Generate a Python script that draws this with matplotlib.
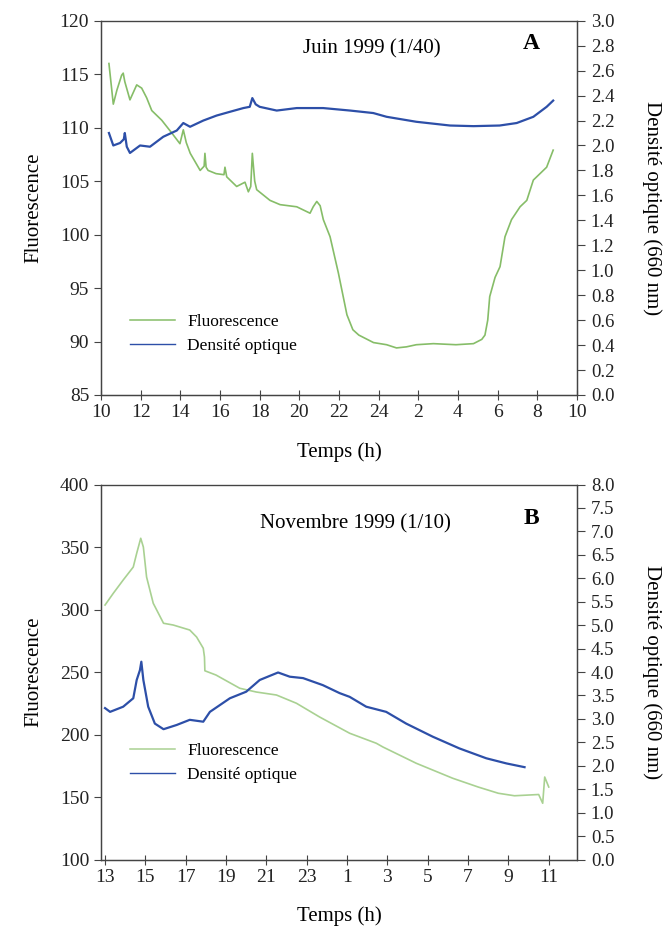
import matplotlib
matplotlib.use("Agg")
import matplotlib.pyplot as plt
from matplotlib.lines import Line2D

plt.rcParams['font.family'] = ['Liberation Serif', 'DejaVu Serif']

# ---------------- Panel A data (time in hours, continuous from 10 h) -------------
a_fluo_t = [10.4, 10.62, 10.8, 11.04, 11.12, 11.2, 11.46, 11.8, 12.05, 12.3, 12.56,
            13.06, 13.57, 13.98, 14.15, 14.3, 14.5, 15.0, 15.2, 15.24, 15.3, 15.4,
            15.8, 16.2, 16.25, 16.34, 16.84, 17.26, 17.43, 17.55, 17.63, 17.75,
            17.85, 18.52, 19.03, 19.87, 20.54, 20.7, 20.88, 21.05, 21.21, 21.55,
            21.97, 22.4, 22.7, 23.0, 23.74, 24.4, 24.9, 25.4, 25.9, 26.76, 27.9,
            28.78, 29.2, 29.36, 29.5, 29.6, 29.87, 30.12, 30.37, 30.7, 31.13,
            31.47, 31.8, 32.47, 32.8]
a_fluo_v = [116.0, 112.2, 113.5, 114.9, 115.1, 114.3, 112.6, 114.0, 113.7, 112.8, 111.6,
            110.7, 109.5, 108.5, 109.8, 108.6, 107.6, 106.0, 106.4, 107.6, 106.3, 106.0,
            105.7, 105.6, 106.3, 105.4, 104.5, 104.9, 104.0, 104.5, 107.6, 105.0,
            104.2, 103.2, 102.8, 102.6, 102.0, 102.6, 103.1, 102.7, 101.4, 99.8,
            96.4, 92.5, 91.1, 90.6, 89.9, 89.7, 89.4, 89.5, 89.7, 89.8, 89.7,
            89.8, 90.2, 90.6, 92.0, 94.2, 96.0, 97.0, 99.8, 101.4, 102.6,
            103.2, 105.1, 106.3, 107.9]

a_od_t = [10.4, 10.62, 10.96, 11.15, 11.2, 11.3, 11.46, 11.97, 12.47, 13.14, 13.82,
          14.15, 14.49, 15.16, 15.83, 16.5, 17.18, 17.5, 17.63, 17.8, 18.0, 18.86,
          19.87, 21.2, 22.56, 23.73, 24.4, 25.9, 27.6, 28.78, 30.1, 30.96, 31.8,
          32.47, 32.8]
a_od_v = [2.10, 2.00, 2.02, 2.05, 2.10, 1.99, 1.94, 2.00, 1.99, 2.07, 2.12,
          2.18, 2.15, 2.20, 2.24, 2.27, 2.30, 2.31, 2.38, 2.33, 2.31, 2.28,
          2.30, 2.30, 2.28, 2.26, 2.23, 2.19, 2.16, 2.155, 2.16, 2.18, 2.23,
          2.31, 2.36]

a_xticks = [10, 12, 14, 16, 18, 20, 22, 24, 26, 28, 30, 32, 34]
a_xlabels = ['10', '12', '14', '16', '18', '20', '22', '24', '2', '4', '6', '8', '10']

# ---------------- Panel B data (time in hours, continuous from 13 h) -------------
b_fluo_t = [13.0, 13.41, 13.9, 14.4, 14.57, 14.77, 14.9, 15.06, 15.39, 15.9, 16.38,
            17.2, 17.54, 17.87, 17.93, 17.95, 18.5, 19.68, 20.5, 21.5, 22.49,
            23.64, 25.13, 26.45, 26.78, 28.43, 30.24, 31.5, 32.5, 33.3, 34.5,
            34.7, 34.8, 35.0]
b_fluo_v = [303.6, 313, 323.6, 334, 345, 357, 350, 326, 305, 289, 287.6,
            283.6, 278, 269, 262, 251, 247.6, 237, 234, 231.6, 225,
            214, 201, 193, 190, 177, 165, 158, 153, 151, 152,
            145, 166, 158]

b_od_t = [13.0, 13.25, 13.9, 14.4, 14.57, 14.73, 14.8, 14.9, 15.14, 15.47, 15.9,
          16.55, 17.2, 17.87, 18.2, 19.19, 20.0, 20.67, 21.58, 22.16, 22.82,
          23.8, 24.63, 25.13, 25.95, 26.94, 27.93, 29.25, 30.57, 31.9, 32.9, 33.8]
b_od_v = [3.23, 3.15, 3.26, 3.44, 3.83, 4.04, 4.22, 3.83, 3.26, 2.90, 2.78,
          2.87, 2.98, 2.94, 3.15, 3.44, 3.58, 3.83, 3.99, 3.90, 3.87,
          3.72, 3.55, 3.47, 3.26, 3.15, 2.90, 2.62, 2.37, 2.16, 2.05, 1.97]

b_xticks = [13, 15, 17, 19, 21, 23, 25, 27, 29, 31, 33, 35]
b_xlabels = ['13', '15', '17', '19', '21', '23', '1', '3', '5', '7', '9', '11']

GREEN_A = '#86bd68'
GREEN_B = '#a9d192'
BLUE = '#2d4fa8'
SPINE = '#444444'

fig = plt.figure(figsize=(6.72, 9.30), dpi=100)


def style_axes(ax, ax2):
    for a in (ax, ax2):
        for s in a.spines.values():
            s.set_color(SPINE)
            s.set_linewidth(0.9)
    ax.spines['top'].set_color('#999999')
    ax.tick_params(axis='x', direction='inout', length=7, width=0.8,
                   colors=SPINE, labelcolor='#222222', labelsize=14, pad=3)
    ax.tick_params(axis='y', direction='out', length=5, width=0.8,
                   colors=SPINE, labelcolor='#222222', labelsize=14)
    ax2.tick_params(axis='y', direction='out', length=6, width=0.8,
                    colors=SPINE, labelcolor='#222222', labelsize=13.5, pad=4)


def panel(rect, ft, fv, ot, ov, green, xlim, xticks, xlabels, ylim, yticks,
          y2lim, y2ticks, title, title_xy, letter, leg_y):
    ax = fig.add_axes(rect)
    ax2 = ax.twinx()
    ax.plot(ft, fv, color=green, lw=1.2, zorder=3)
    ax2.plot(ot, ov, color=BLUE, lw=1.6, zorder=3)
    ax.set_xlim(*xlim)
    ax.set_ylim(*ylim)
    ax2.set_ylim(*y2lim)
    ax.set_xticks(xticks)
    ax.set_xticklabels(xlabels)
    ax.set_yticks(yticks)
    ax2.set_yticks(y2ticks)
    ax2.set_yticklabels(['%.1f' % v for v in y2ticks])
    style_axes(ax, ax2)
    ax.set_ylabel('Fluorescence', fontsize=15, labelpad=12)
    ax2.set_ylabel('Densité optique (660 nm)', fontsize=15, rotation=-90,
                   labelpad=34)
    ax.set_xlabel('Temps (h)', fontsize=15, labelpad=15)
    ax.text(title_xy[0], title_xy[1], title, transform=ax.transAxes,
            fontsize=15, ha='center', va='center')
    ax.text(0.905, title_xy[1] + 0.015, letter, transform=ax.transAxes,
            fontsize=17, fontweight='bold', ha='center', va='center')
    handles = [Line2D([], [], color=green, lw=1.1),
               Line2D([], [], color=BLUE, lw=1.0)]
    ax2.legend(handles, ['Fluorescence', 'Densité optique'], loc='center left',
               bbox_to_anchor=(0.061, leg_y), frameon=False, fontsize=12.5,
               handlelength=2.6, handletextpad=0.7, labelspacing=0.45,
               borderpad=0, borderaxespad=0)
    return ax, ax2


panel([0.1503, 0.5753, 0.7083, 0.4024], a_fluo_t, a_fluo_v, a_od_t, a_od_v,
      GREEN_A, (10, 34), a_xticks, a_xlabels, (85, 120),
      [85, 90, 95, 100, 105, 110, 115, 120], (0, 3.0),
      [i * 0.2 for i in range(16)], 'Juin 1999 (1/40)', (0.57, 0.925), 'A', 0.162)

panel([0.1503, 0.0758, 0.7083, 0.4032], b_fluo_t, b_fluo_v, b_od_t, b_od_v,
      GREEN_B, (12.8, 36.4), b_xticks, b_xlabels, (100, 400),
      [100, 150, 200, 250, 300, 350, 400], (0, 8.0),
      [i * 0.5 for i in range(17)], 'Novembre 1999 (1/10)', (0.535, 0.895), 'B', 0.258)

fig.savefig('out.png', dpi=100)
